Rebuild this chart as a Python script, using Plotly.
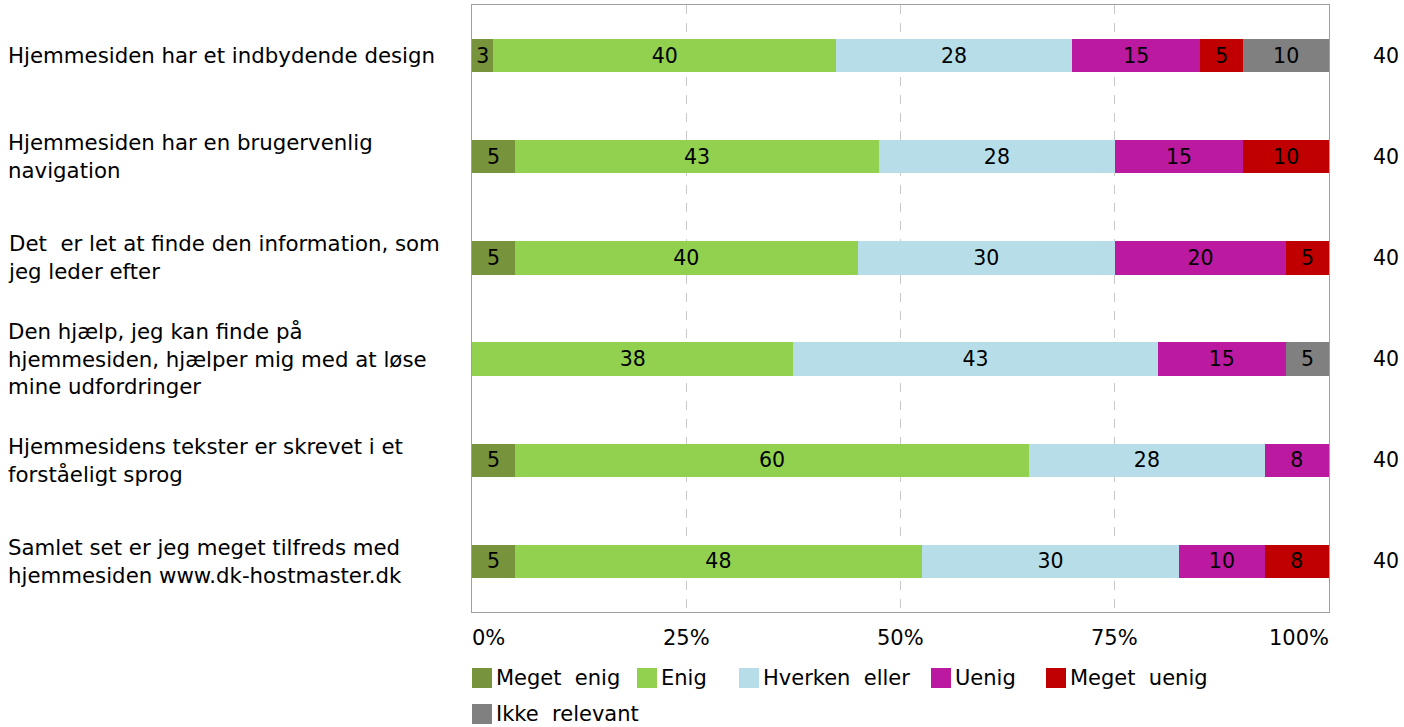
import plotly.graph_objects as go
import math

questions = [
    "Hjemmesiden har et indbydende design",
    "Hjemmesiden har en brugervenlig<br>navigation",
    "Det  er let at finde den information, som<br>jeg leder efter",
    "Den hjælp, jeg kan finde på<br>hjemmesiden, hjælper mig med at løse<br>mine udfordringer",
    "Hjemmesidens tekster er skrevet i et<br>forståeligt sprog",
    "Samlet set er jeg meget tilfreds med<br>hjemmesiden www.dk-hostmaster.dk",
]
series_names = ["Meget  enig", "Enig", "Hverken  eller", "Uenig", "Meget  uenig", "Ikke  relevant"]
meget_enig = [2.5, 5, 5, 0, 5, 5]
enig = [40, 42.5, 40, 37.5, 60, 47.5]
hverken = [27.5, 27.5, 30, 42.5, 27.5, 30]
uenig = [15, 15, 20, 15, 7.5, 10]
meget_uenig = [5, 10, 5, 0, 0, 7.5]
ikke_relevant = [10, 0, 0, 5, 0, 0]
n_counts = [40, 40, 40, 40, 40, 40]
tick_vals = [0, 25, 50, 75, 100]
tick_text = ["0%", "25%", "50%", "75%", "100%"]

colors = ["#77933C", "#92D050", "#B7DEE8", "#BB1AA0", "#C00000", "#808080"]
series = [meget_enig, enig, hverken, uenig, meget_uenig, ikke_relevant]

# layout constants (pixels)
W, H = 1404, 727
ML, MR, MT, MB = 472, 75, 5, 115
PW, PH = W - ML - MR, H - MT - MB
legend_slots = [(472, 678), (637, 678), (739, 678), (931, 678), (1046, 678), (472, 714)]

def px_x(p):
    return (p - ML) / PW

def px_y(p):
    return (H - MB - p) / PH

FONT = "Verdana, DejaVu Sans, sans-serif"

def lab(v):
    return "" if v == 0 else str(int(math.floor(v + 0.5)))

fig = go.Figure()
for name, vals, col in zip(series_names, series, colors):
    fig.add_trace(go.Bar(
        y=questions, x=vals, name=name, orientation="h",
        marker=dict(color=col, line=dict(width=0)),
        text=[lab(v) for v in vals], textposition="inside",
        insidetextanchor="middle", textangle=0,
        textfont=dict(family=FONT, size=20.5, color="#000000"),
        width=0.33, showlegend=False,
    ))

annotations = []
shapes = []
for q, n in zip(questions, n_counts):
    annotations.append(dict(x=px_x(6), y=q, xref="paper", yref="y", text=q,
                            showarrow=False, xanchor="left", align="left",
                            font=dict(family=FONT, size=21.3, color="#000000")))
    annotations.append(dict(x=px_x(1386), y=q, xref="paper", yref="y", text=str(n),
                            showarrow=False, xanchor="center",
                            font=dict(family=FONT, size=20.5, color="#000000")))
for v, t in zip(tick_vals, tick_text):
    anchor = "left" if v == 0 else ("right" if v == 100 else "center")
    annotations.append(dict(x=v, y=px_y(638), xref="x", yref="paper", text=t,
                            showarrow=False, xanchor=anchor, yanchor="middle",
                            xshift=-2 if v == 0 else (2 if v == 100 else 0),
                            font=dict(family=FONT, size=21, color="#000000")))
for name, col, (lx, ly) in zip(series_names, colors, legend_slots):
    shapes.append(dict(type="rect", xref="paper", yref="paper",
                       x0=px_x(lx), x1=px_x(lx + 20), y0=px_y(ly + 10), y1=px_y(ly - 10),
                       fillcolor=col, line=dict(width=0)))
    annotations.append(dict(x=px_x(lx + 22), y=px_y(ly), xref="paper", yref="paper",
                            text=name, showarrow=False, xanchor="left", yanchor="middle",
                            font=dict(family=FONT, size=21, color="#000000")))

fig.update_layout(
    width=W, height=H,
    margin=dict(l=ML, r=MR, t=MT, b=MB),
    barmode="stack",
    plot_bgcolor="white", paper_bgcolor="white",
    uniformtext=dict(minsize=20, mode="show"),
    showlegend=False,
    xaxis=dict(range=[0, 100], tickvals=tick_vals, showticklabels=False,
               showgrid=True, gridcolor="#C8C8C8", griddash="dash", gridwidth=1,
               zeroline=False, showline=True, linecolor="#A0A0A0", mirror=True,
               ticks=""),
    yaxis=dict(categoryorder="array", categoryarray=questions,
               range=[5.5, -0.5], showticklabels=False, showgrid=False,
               showline=True, linecolor="#A0A0A0", mirror=True, ticks=""),
    annotations=annotations,
    shapes=shapes,
)

fig.write_html("out.html", config={"displayModeBar": False},
               post_script="document.body.style.margin='0';document.body.style.padding='0';")
